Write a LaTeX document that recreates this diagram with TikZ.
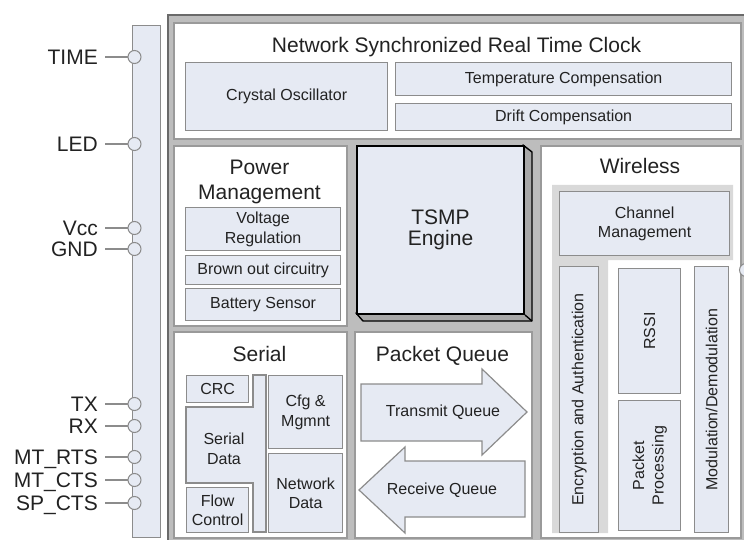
\documentclass[tikz,border=0pt]{standalone}
\usepackage{fontspec}
\setmainfont{Liberation Sans}
\definecolor{boxfill}{HTML}{E6EAF3}
\definecolor{boxline}{HTML}{8C8C8C}
\definecolor{panelline}{HTML}{9A9A9A}
\definecolor{backg}{HTML}{BDBDBD}
\definecolor{frameline}{HTML}{6A6A6A}
\definecolor{lgray}{HTML}{D9D9D9}
\definecolor{sidegray}{HTML}{A8A8A8}
\definecolor{txt}{HTML}{222222}
\begin{document}
\begin{tikzpicture}[x=1pt,y=-1pt,
  every node/.style={text=txt},
  panel/.style={draw=panelline, line width=1.8pt, fill=white, anchor=north west, inner sep=0pt},
  ibox/.style={draw=boxline, line width=1.3pt, fill=boxfill, anchor=north west, inner sep=0pt, align=center,
    font=\fontsize{16pt}{19.5pt}\selectfont},
  itext/.style={inner sep=0pt, align=center, font=\fontsize{16pt}{19.5pt}\selectfont},
  ttl/.style={font=\fontsize{21pt}{25pt}\selectfont, align=center, inner sep=0pt},
  pinlbl/.style={font=\fontsize{21pt}{24pt}\selectfont, anchor=base east, inner sep=0pt},
  pin/.style={circle, draw=boxline, fill=boxfill, line width=1pt, minimum size=13pt, inner sep=0pt},
  pinline/.style={draw=boxline, line width=1.2pt},
  qarrow/.style={draw=boxline, line width=1.2pt, fill=boxfill, line join=miter}
]
\useasboundingbox (0,0) rectangle (744,540);
\fill[white] (0,0) rectangle (744,540);

% ---------- left pin bar ----------
\node[draw=boxline, line width=1.3pt, fill=boxfill, anchor=north west, minimum width=28pt,
  minimum height=512pt, inner sep=0pt] (bar) at (132,25) {};
\foreach \n/\t/\y in {time/TIME/57, led/LED/144, vcc/Vcc/228, gnd/GND/249, tx/TX/404,
  rx/RX/426, rts/MT\_RTS/457, cts/MT\_CTS/480, spcts/SP\_CTS/503} {
  \node[pinlbl] (l\n) at (98,{\y+7.5}) {\t};
  \node[pin] (p\n) at (134.5,\y) {};
  \draw[pinline] ([xshift=7pt,yshift=7.5pt]l\n.base east) -- (p\n.west);
}

% ---------- main frame ----------
\node[draw=frameline, line width=2pt, fill=backg, anchor=north west, minimum width=600pt,
  minimum height=540pt, inner sep=0pt] (frame) at (167,14) {};

% ---------- RTC ----------
\node[panel, minimum width=567pt, minimum height=116pt] (rtc) at (173,22) {};
\node[ttl, anchor=base] (rtct) at (456.5,53) {Network Synchronized Real Time Clock};
\node[ibox, minimum width=202pt, minimum height=68pt] (crystal) at (185,62) {Crystal Oscillator};
\node[ibox, minimum width=336pt, minimum height=33pt] (temp) at (395,62) {Temperature Compensation};
\node[ibox, minimum width=336pt, minimum height=27pt] (drift) at (395,103) {Drift Compensation};

% ---------- Power management ----------
\node[panel, minimum width=173pt, minimum height=180pt] (power) at (173,145) {};
\node[ttl] (powert) at (259.5,182) {Power\\Management};
\node[ibox, minimum width=155pt, minimum height=43pt] (volt) at (185,207) {Voltage\\Regulation};
\node[ibox, minimum width=155pt, minimum height=29pt] (brown) at (185,255) {Brown out circuitry};
\node[ibox, minimum width=155pt, minimum height=32pt] (batt) at (185,288) {Battery Sensor};

% ---------- TSMP engine ----------
\path[fill=sidegray, draw=black, line width=1.4pt, line join=round]
  (523,145) -- (532,152) -- (532,321) -- (363,321) -- (356,313) -- (523,313) -- cycle;
\node[draw=black, line width=2pt, fill=boxfill, anchor=north west, minimum width=167pt,
  minimum height=168pt, inner sep=0pt, align=center,
  font=\fontsize{21pt}{20.5pt}\selectfont] (tsmp) at (356,145) {TSMP\\Engine};
\draw[black, line width=1.4pt] (tsmp.south east) -- (532,321);

% ---------- Wireless ----------
\node[panel, minimum width=200pt, minimum height=392pt] (wireless) at (540,145) {};
\node[ttl, anchor=base] (wirelesst) at (640,174) {Wireless};
\fill[lgray] (552,185) -- (733,185) -- (733,260) -- (608,260) -- (608,533) -- (552,533) -- cycle;
\node[ibox, minimum width=170pt, minimum height=64pt] (chan) at (559,191) {Channel\\Management};
\node[ibox, minimum width=39pt, minimum height=266pt] (enc) at (559,266) {};
\node[itext, rotate=90] (enct) at (enc.center) {Encryption and Authentication};
\node[ibox, minimum width=62pt, minimum height=125pt] (rssi) at (618,268) {};
\node[itext, rotate=90] (rssit) at (rssi.center) {RSSI};
\node[ibox, minimum width=62pt, minimum height=130pt] (pp) at (618,400) {};
\node[itext, rotate=90] (ppt) at (pp.center) {Packet\\Processing};
\node[ibox, minimum width=34pt, minimum height=266pt] (mod) at (694,266) {};
\node[itext, rotate=90] (modt) at (mod.center) {Modulation/Demodulation};
\node[pin] (pright) at (746,270) {};

% ---------- Serial ----------
\node[panel, minimum width=173pt, minimum height=206pt] (serial) at (173,331) {};
\node[ttl, anchor=base] (serialt) at (259.5,361) {Serial};
\path[draw=boxline, line width=1.3pt, fill=boxfill]
  (186,407) -- (253,407) -- (253,375) -- (266,375) -- (266,532) -- (253,532) -- (253,483) -- (186,483) -- cycle;
\node[itext] (sdata) at (224,449) {Serial\\Data};
\node[ibox, minimum width=62pt, minimum height=27pt] (crc) at (186,375) {CRC};
\node[ibox, minimum width=62pt, minimum height=45pt] (flow) at (186,487) {Flow\\Control};
\node[ibox, minimum width=74pt, minimum height=73pt] (cfg) at (268,375) {Cfg \&\\Mgmnt};
\node[ibox, minimum width=74pt, minimum height=79pt] (net) at (268,453) {Network\\Data};

% ---------- Packet queue ----------
\node[panel, minimum width=177pt, minimum height=206pt] (pq) at (354,331) {};
\node[ttl, anchor=base] (pqt) at (442.5,361) {Packet Queue};
\path[qarrow] (361,384) -- (482,384) -- (482,369) -- (527,412) -- (482,455) -- (482,441) -- (361,441) -- cycle;
\node[itext] (txq) at (443,412) {Transmit Queue};
\path[qarrow] (359,490) -- (405,447) -- (405,461) -- (525,461) -- (525,517) -- (405,517) -- (405,533) -- cycle;
\node[itext] (rxq) at (442,490) {Receive Queue};
\end{tikzpicture}
\end{document}
